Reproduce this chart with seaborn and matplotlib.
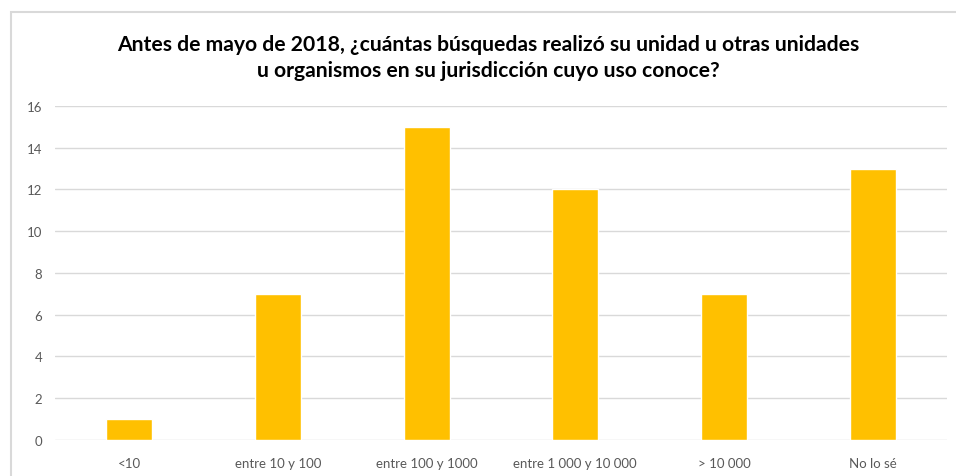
import pandas as pd
import numpy as np
import matplotlib.pyplot as plt
import seaborn as sns
from matplotlib.patches import Rectangle

categories = ['<10', 'entre 10 y 100', 'entre 100 y 1000', 'entre 1 000 y 10 000', '> 10 000', 'No lo sé']
values = [1, 7, 15, 12, 7, 13]
title = 'Antes de mayo de 2018, ¿cuántas búsquedas realizó su unidad u otras unidades\nu organismos en su jurisdicción cuyo uso conoce?'

sns.set_style('white')
plt.rcParams['font.family'] = ['Lato', 'DejaVu Sans']

df = pd.DataFrame({'cat': categories, 'val': values})

fig = plt.figure(figsize=(9.56, 4.77), dpi=100)
ax = fig.add_axes([0.0575, 0.0755, 0.933, 0.7002])

sns.barplot(data=df, x='cat', y='val', color='#FFC000', width=0.31, saturation=1, ax=ax, zorder=3)

ax.set_ylim(0, 16)
ax.set_yticks(np.arange(0, 17, 2))
ax.set_xlim(-0.5, len(categories) - 0.5)
ax.yaxis.grid(True, color='#D9D9D9', linewidth=1, zorder=0)
ax.set_axisbelow(True)
for s in ax.spines.values():
    s.set_visible(False)
ax.tick_params(axis='both', length=0, labelsize=9.5, colors='#595959')
ax.tick_params(axis='x', pad=12)
ax.tick_params(axis='y', pad=9)
ax.set_xlabel('')
ax.set_ylabel('')

fig.text(0.511, 0.878, title, ha='center', va='center', fontsize=15.2, fontweight='bold', color='black', linespacing=1.35)

# chart border
fig.patches.append(Rectangle((10.5 / 956, -0.1), 1.1, 1.1 - 13 / 477, transform=fig.transFigure,
                             fill=False, edgecolor='#D9D9D9', linewidth=1.5))

fig.savefig('out.png', dpi=100)
